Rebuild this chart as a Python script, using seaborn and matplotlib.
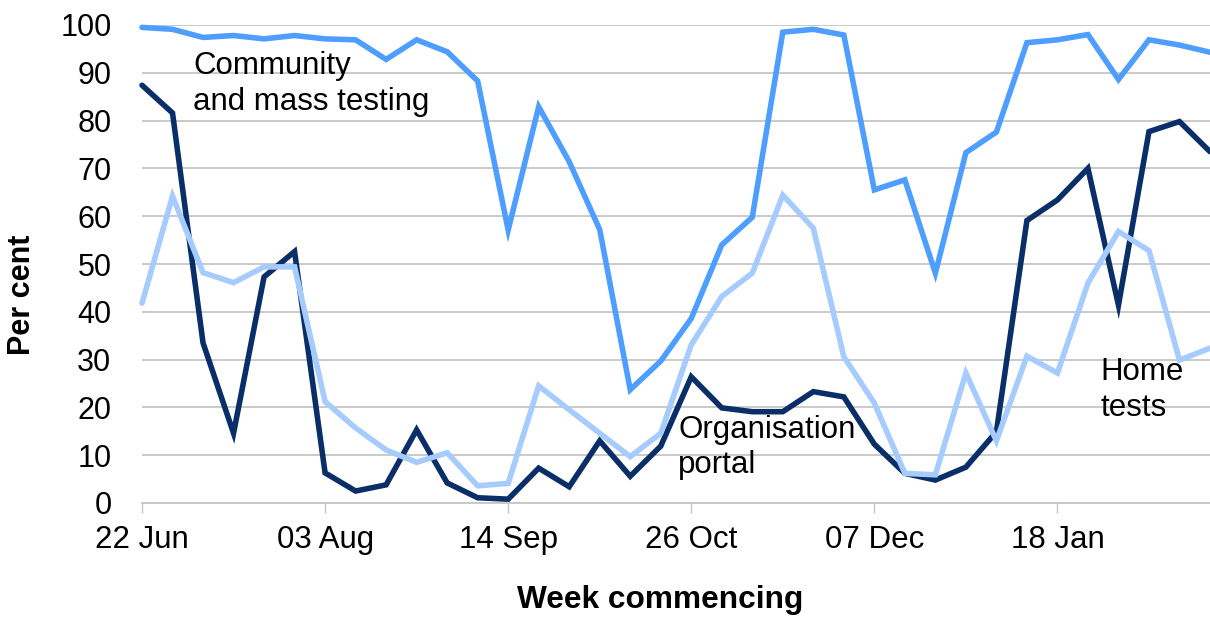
import pandas as pd
import matplotlib
matplotlib.use("Agg")
import matplotlib.pyplot as plt
import matplotlib.dates as mdates
import seaborn as sns

# weekly data, week commencing 22 Jun 2020
weeks = pd.date_range("2020-06-22", periods=36, freq="7D")

community = [99.5, 99.1, 97.4, 97.8, 97.1, 97.8, 97.1, 96.9, 92.8, 96.9,
             94.4, 88.3, 57.1, 82.9, 71.4, 57.2, 23.7, 29.7, 38.6, 54.0,
             59.8, 98.5, 99.1, 97.9, 65.5, 67.6, 48.1, 73.3, 77.6, 96.3,
             96.9, 98.0, 88.6, 96.9, 95.8, 94.3]
organisation = [87.4, 81.6, 33.5, 14.6, 47.3, 52.6, 6.3, 2.5, 3.8, 15.3,
                4.2, 1.1, 0.8, 7.3, 3.4, 13.0, 5.6, 11.9, 26.4, 19.9,
                19.1, 19.1, 23.3, 22.2, 12.3, 6.2, 4.8, 7.5, 14.9, 59.1,
                63.4, 70.0, 41.4, 77.7, 79.8, 73.5]
home = [41.8, 64.2, 48.2, 46.1, 49.4, 49.4, 21.2, 15.7, 11.1, 8.5,
        10.5, 3.6, 4.1, 24.5, 19.5, 14.6, 9.7, 14.6, 33.1, 43.2,
        48.1, 64.4, 57.5, 30.6, 20.9, 6.2, 5.9, 27.2, 13.0, 30.7,
        27.2, 46.0, 56.8, 52.8, 29.9, 32.4]

series_names = ["Community and mass testing", "Organisation portal", "Home tests"]
colours = ["#4D9EFF", "#0A2F68", "#A5CBFF"]

df = pd.DataFrame({
    "week": list(weeks) * 3,
    "value": community + organisation + home,
    "series": [s for s in series_names for _ in range(len(weeks))],
})

sns.set_style("white")
plt.rcParams["font.family"] = ["Liberation Sans", "DejaVu Sans"]
plt.rcParams["text.color"] = "black"
plt.rcParams["axes.labelcolor"] = "black"

fig = plt.figure(figsize=(12.1, 6.2), dpi=100)
ax = fig.add_axes([142 / 1210, 1 - 503 / 620, 1 - 142 / 1210, (503 - 25) / 620])

sns.lineplot(data=df, x="week", y="value", hue="series",
             palette=dict(zip(series_names, colours)), linewidth=4.0,
             legend=False, ax=ax)
for line in ax.lines:
    line.set_clip_on(False)
    line.set_solid_joinstyle("miter")

ax.set_xlim(weeks[0], weeks[-1])
ax.set_ylim(0, 100)
ax.set_yticks(range(0, 101, 10))
ax.set_xticks(weeks[:31:6])
ax.xaxis.set_major_formatter(mdates.DateFormatter("%d %b"))

ax.grid(axis="y", color="#c6c6c6", linewidth=1.3)
ax.grid(axis="x", visible=False)
ax.set_axisbelow(True)
for side in ["left", "right", "top"]:
    ax.spines[side].set_visible(False)
ax.spines["bottom"].set_color("#c6c6c6")
ax.spines["bottom"].set_linewidth(1.3)

ax.tick_params(axis="y", length=0, pad=22, labelsize=22, labelcolor="black")
ax.tick_params(axis="x", length=7, width=1.0, color="#c6c6c6", direction="out",
               pad=9, labelsize=22.5, labelcolor="black", bottom=True)

ax.set_xlabel("Week commencing", fontsize=22.8, fontweight="bold")
ax.set_ylabel("Per cent", fontsize=22, fontweight="bold")
ax.xaxis.set_label_coords(0.485, -0.172)
ax.yaxis.set_label_coords(-0.098, 0.435)

ax.text(weeks[0] + pd.Timedelta(days=11.7), 87.6, "Community\nand mass testing",
        fontsize=22.5, va="center", ha="left", linespacing=1.25)
ax.text(weeks[17] + pd.Timedelta(days=4.0), 11.6, "Organisation\nportal",
        fontsize=22.5, va="center", ha="left", linespacing=1.25)
ax.text(weeks[31] + pd.Timedelta(days=2.8), 23.6, "Home\ntests",
        fontsize=22.5, va="center", ha="left", linespacing=1.25)

fig.savefig("out.png", dpi=100)
